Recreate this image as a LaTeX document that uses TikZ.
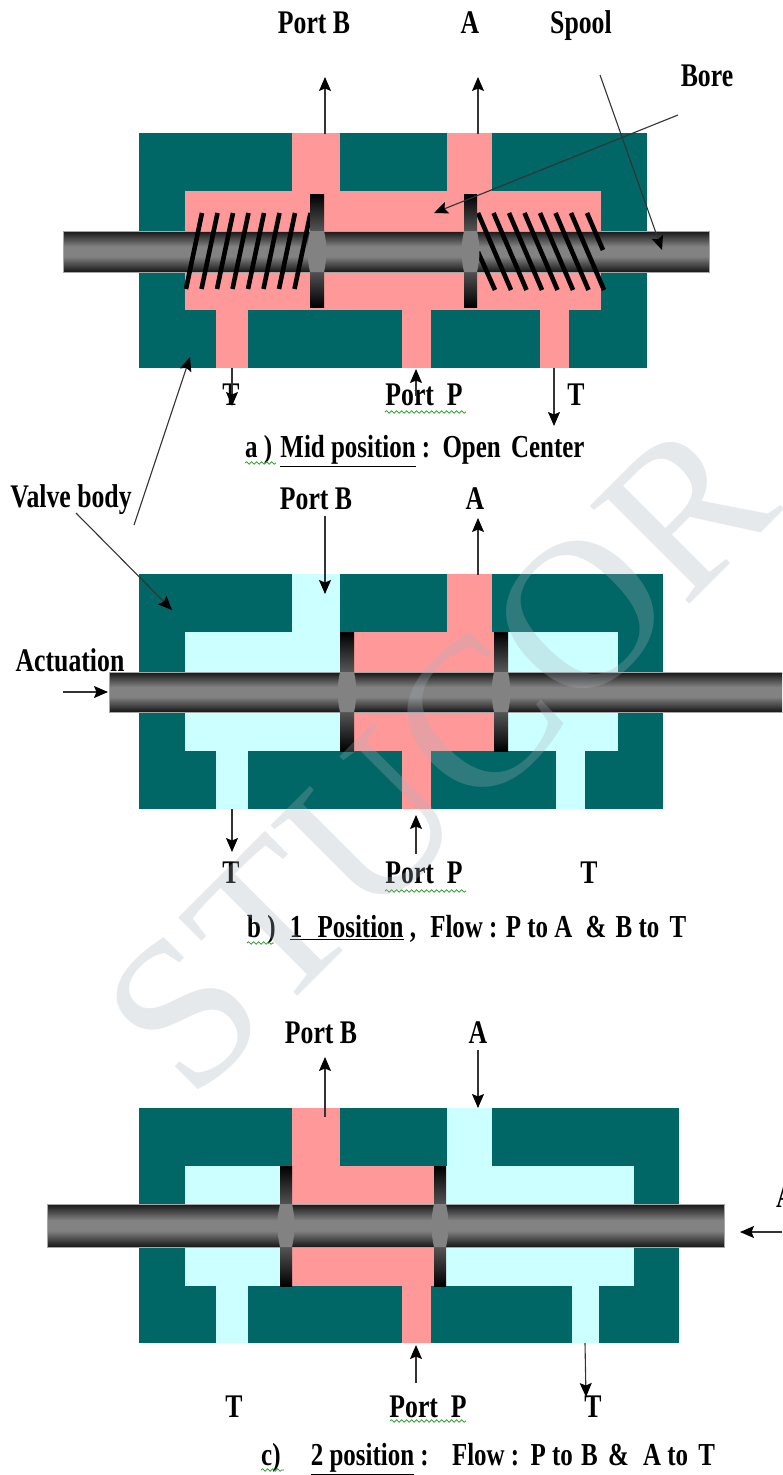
\documentclass[tikz,border=0pt]{standalone}
\usepackage{fontspec}
\setmainfont[FakeStretch=0.78]{Liberation Serif}
\newfontfamily\wmfont{Liberation Serif}
\usetikzlibrary{arrows.meta,decorations.pathmorphing}
\definecolor{bodyteal}{HTML}{006666}
\definecolor{flowpink}{HTML}{FF9999}
\definecolor{flowcyan}{HTML}{CCFFFF}
\definecolor{spoolgray}{HTML}{828282}
\definecolor{spooldark}{HTML}{161616}
\definecolor{wavegreen}{HTML}{1E9A1E}
\definecolor{wmgray}{RGB}{168,176,186}
\pgfdeclareverticalshading{spoolshade}{100bp}{color(0bp)=(spooldark);color(25bp)=(spooldark);color(44bp)=(spoolgray);color(56bp)=(spoolgray);color(75bp)=(spooldark);color(100bp)=(spooldark)}
\tikzset{
  bodyfill/.style={fill=bodyteal},
  press/.style={fill=flowpink},
  tank/.style={fill=flowcyan},
  spoolbar/.style={draw=black!35,line width=0.8pt,shading=spoolshade},
  landbar/.style={top color=black,bottom color=black,middle color=spoolgray},
  lens/.style={fill=spoolgray},
  coil/.style={line width=4.6pt,black},
  flow/.style={-{Stealth[length=14pt,width=12pt,inset=2.5pt,black]},line width=1.1pt,black!80},
  lbl/.style={font=\fontsize{33}{33}\bfseries\selectfont,inner sep=0pt,text=black},
  captext/.style={font=\fontsize{32}{32}\bfseries\selectfont,inner sep=0pt,anchor=west,text=black},
  squiggle/.style={wavegreen,line width=0.7pt,decorate,decoration={snake,amplitude=1.3pt,segment length=5pt}},
  wm/.style={font=\wmfont\fontsize{213}{213}\selectfont,text=wmgray,text opacity=0.28,inner sep=0pt}
}
\begin{document}
\begin{tikzpicture}[x=1pt,y=-1pt]
\useasboundingbox (0,0) rectangle (782,1475);
\clip (0,0) rectangle (782,1475);
\fill[white] (0,0) rectangle (782,1475);

% ---------- Panel a : mid position ----------
\fill[bodyfill] (139,133) rectangle (647,368);
\fill[press] (185,191) rectangle (601,310);
\fill[press] (292,133) rectangle (340,192);
\fill[press] (447,133) rectangle (492,192);
\fill[press] (216,309) rectangle (248,368);
\fill[press] (402,309) rectangle (431,368);
\fill[press] (540,309) rectangle (569,368);
\shade[spoolbar] (63,231) rectangle (709,272);
\foreach \i in {0,...,7} {
  \draw[coil] ({186+15.5*\i},289) -- ({202+15.5*\i},213);
}
\foreach \i in {0,...,6} {
  \draw[coil] ({478+15.5*\i},213) -- ({511+15.5*\i},290);
}
\draw[coil] (587,213) -- (603,250);
\draw[coil] (478,252) -- (495,290);
\shade[landbar] (310,194) rectangle (324,307);
\shade[landbar] (464,194) rectangle (477,307);
\fill[lens] (310,231) to[bend right=12] (310,272) -- (324,272) to[bend right=12] (324,231) -- cycle;
\fill[lens] (464,231) to[bend right=12] (464,272) -- (477,272) to[bend right=12] (477,231) -- cycle;

\node[lbl] (aPortB) at (314,23) {Port B};
\node[lbl] (aA) at (470,23) {A};
\node[lbl] (aSpool) at (581,26) {Spool};
\node[lbl] (aBore) at (707,76) {Bore};
\node[lbl] (aT1) at (231,395) {T};
\node[lbl] (aPortP) at (424,395) {Port~~P};
\node[lbl] (aT2) at (576,395) {T};
\node[captext] (aCap) at (245,451) {a )\hspace{2pt} \underline{Mid position} :\hspace{4pt} Open\hspace{4pt} Center};
\node[lbl] (valve) at (71,500) {Valve body};

\coordinate (aB0) at (325,134); \coordinate (aB1) at (325,77);
\coordinate (aA0) at (478,134); \coordinate (aA1) at (478,77);
\coordinate (spS) at (600,75);  \coordinate (spE) at (662,250);
\coordinate (boS) at (678,115); \coordinate (boE) at (434,213);
\coordinate (vaS) at (134,525); \coordinate (vaE) at (190,357);
\coordinate (aT0) at (232,368); \coordinate (aT9) at (232,406);
\coordinate (aP0) at (416,396); \coordinate (aP1) at (416,369);
\coordinate (aU0) at (554,368); \coordinate (aU1) at (554,426);
\draw[flow] (aB0) -- (aB1);
\draw[flow] (aA0) -- (aA1);
\draw[flow] (spS) -- (spE);
\draw[flow] (boS) -- (boE);
\draw[flow] (vaS) -- (vaE);
\draw[flow] (aT0) -- (aT9);
\draw[flow] (aP0) -- (aP1);
\draw[flow] (aU0) -- (aU1);
\coordinate (aw0) at (385,412); \coordinate (aw1) at (466,412);
\coordinate (aw2) at (245,463); \coordinate (aw3) at (276,463);
\draw[squiggle] (aw0) -- (aw1);
\draw[squiggle] (aw2) -- (aw3);

% ---------- Panel b : position 1 ----------
\fill[bodyfill] (139,574) rectangle (663,809);
\fill[tank] (185,632) rectangle (618,751);
\fill[tank] (292,574) rectangle (340,633);
\fill[tank] (216,750) rectangle (248,809);
\fill[tank] (556,750) rectangle (585,809);
\fill[bodyfill] (492,574) rectangle (508,635);
\fill[press] (354,632) rectangle (494,751);
\fill[press] (447,574) rectangle (492,633);
\fill[press] (402,750) rectangle (431,809);
\shade[spoolbar] (109,672) rectangle (790,712);
\shade[landbar] (340,632) rectangle (354,751);
\shade[landbar] (494,632) rectangle (508,751);
\fill[lens] (340,672) to[bend right=12] (340,712) -- (354,712) to[bend right=12] (354,672) -- cycle;
\fill[lens] (494,672) to[bend right=12] (494,712) -- (508,712) to[bend right=12] (508,672) -- cycle;

\node[lbl] (bPortB) at (316,499) {Port B};
\node[lbl] (bA) at (475,499) {A};
\node[lbl] (bAct) at (70,660) {Actuation};
\node[lbl] (bT1) at (231,873) {T};
\node[lbl] (bPortP) at (424,873) {Port~~P};
\node[lbl] (bT2) at (589,873) {T};
\node[captext] (bCap) at (247,930) {b )\hspace{8pt} \underline{1\hspace{9pt} Position} ,\hspace{8pt} Flow : P to A\hspace{7pt} \&\hspace{3pt} B to\hspace{4pt} T};

\coordinate (bB0) at (325,516); \coordinate (bB1) at (325,594);
\coordinate (bA0) at (478,575); \coordinate (bA1) at (478,518);
\coordinate (bV0) at (76,513);  \coordinate (bV1) at (172,610);
\coordinate (bC0) at (63,692);  \coordinate (bC1) at (108,692);
\coordinate (bT0) at (232,809); \coordinate (bT9) at (232,852);
\coordinate (bP0) at (416,854); \coordinate (bP1) at (416,815);
\draw[flow] (bB0) -- (bB1);
\draw[flow] (bA0) -- (bA1);
\draw[flow] (bV0) -- (bV1);
\draw[flow] (bC0) -- (bC1);
\draw[flow] (bT0) -- (bT9);
\draw[flow] (bP0) -- (bP1);
\coordinate (bw0) at (385,891); \coordinate (bw1) at (466,891);
\coordinate (bw2) at (247,943); \coordinate (bw3) at (274,943);
\draw[squiggle] (bw0) -- (bw1);
\draw[squiggle] (bw2) -- (bw3);

% ---------- Panel c : position 2 ----------
\fill[bodyfill] (139,1108) rectangle (679,1343);
\fill[tank] (185,1166) rectangle (634,1286);
\fill[tank] (447,1108) rectangle (492,1167);
\fill[tank] (216,1285) rectangle (248,1343);
\fill[tank] (572,1285) rectangle (599,1343);
\fill[press] (292,1166) rectangle (434,1286);
\fill[press] (292,1108) rectangle (340,1167);
\fill[press] (402,1285) rectangle (431,1343);
\shade[spoolbar] (47,1204) rectangle (724,1247);
\shade[landbar] (280,1166) rectangle (292,1286);
\shade[landbar] (434,1166) rectangle (446,1286);
\fill[lens] (280,1204) to[bend right=12] (280,1247) -- (292,1247) to[bend right=12] (292,1204) -- cycle;
\fill[lens] (434,1204) to[bend right=12] (434,1247) -- (446,1247) to[bend right=12] (446,1204) -- cycle;

\node[lbl] (cPortB) at (321,1033) {Port B};
\node[lbl] (cA) at (478,1033) {A};
\node[lbl,anchor=west] (cAct) at (776,1197) {A};
\node[lbl] (cT1) at (234,1407) {T};
\node[lbl] (cPortP) at (428,1407) {Port~~P};
\node[lbl] (cT2) at (593,1407) {T};
\node[captext] (cCap) at (261,1459) {c)\hspace{24pt} \underline{2 position} :\hspace{15pt} Flow :\hspace{3pt} P to\hspace{2pt} B\hspace{4pt} \&\hspace{8pt} A to\hspace{4pt} T};

\coordinate (cB0) at (325,1117); \coordinate (cB1) at (325,1057);
\coordinate (cA0) at (478,1050); \coordinate (cA1) at (478,1108);
\coordinate (cP0) at (416,1383); \coordinate (cP1) at (416,1345);
\coordinate (cT0) at (585,1343); \coordinate (cT9) at (586,1397);
\coordinate (cC0) at (782,1232); \coordinate (cC1) at (740,1232);
\draw[flow] (cB0) -- (cB1);
\draw[flow] (cA0) -- (cA1);
\draw[flow] (cP0) -- (cP1);
\draw[flow] (cT0) -- (cT9);
\draw[flow] (cC0) -- (cC1);
\coordinate (cw0) at (390,1421); \coordinate (cw1) at (466,1421);
\coordinate (cw2) at (261,1470); \coordinate (cw3) at (284,1470);
\draw[squiggle] (cw0) -- (cw1);
\draw[squiggle] (cw2) -- (cw3);

% ---------- watermark ----------
\node[wm,rotate=45] (wmark) at (439,757) {STUCOR};
\end{tikzpicture}
\end{document}
